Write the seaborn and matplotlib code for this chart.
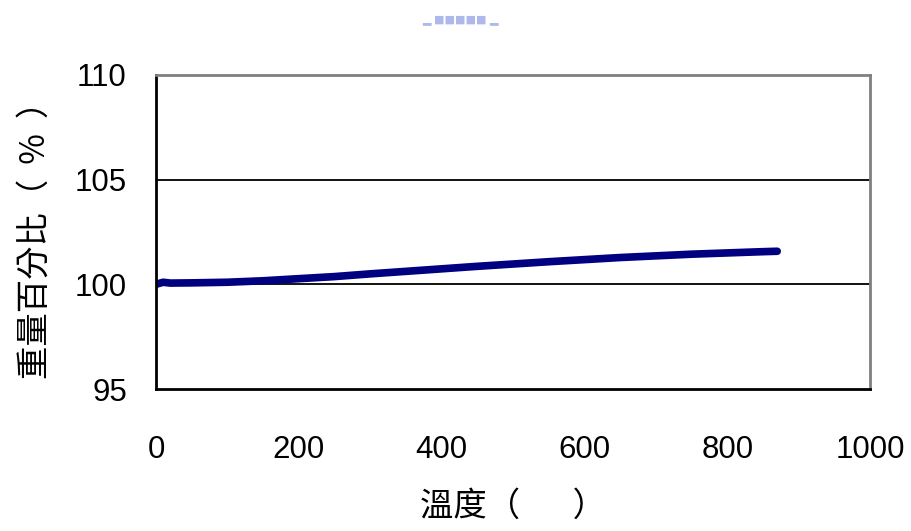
import matplotlib
matplotlib.use("Agg")
import matplotlib.pyplot as plt
import seaborn as sns
import pandas as pd

# Thermogravimetric reading: temperature vs. remaining weight percentage
temperature = [0, 10, 20, 50, 100, 150, 200, 250, 300, 350, 400, 450, 500,
               550, 600, 650, 700, 750, 800, 850, 870]
weight_pct = [100.0, 100.1, 100.06, 100.07, 100.1, 100.17, 100.27, 100.37,
              100.5, 100.62, 100.74, 100.86, 100.97, 101.08, 101.18, 101.28,
              101.36, 101.44, 101.5, 101.56, 101.58]

x_ticks = [0, 200, 400, 600, 800, 1000]
y_ticks = [95, 100, 105, 110]

sns.set_style("white")
plt.rcParams["font.family"] = ["Liberation Sans", "Noto Sans CJK TC", "DejaVu Sans"]
plt.rcParams["text.color"] = "black"
plt.rcParams["axes.labelcolor"] = "black"
plt.rcParams["xtick.color"] = "black"
plt.rcParams["ytick.color"] = "black"

df = pd.DataFrame({"temp": temperature, "weight": weight_pct})

fig = plt.figure(figsize=(9.12, 5.31), dpi=100)
ax = fig.add_axes([0.171, 0.2674, 0.783, 0.5914])

sns.lineplot(data=df, x="temp", y="weight", ax=ax, color="#000080",
             linewidth=5.5, solid_capstyle="round", solid_joinstyle="round")

ax.set_xlim(0, 1000)
ax.set_ylim(95, 110)
ax.set_xticks(x_ticks)
ax.set_yticks(y_ticks)
ax.set_xticklabels([str(v) for v in x_ticks], fontsize=22.5)
ax.set_yticklabels([str(v) for v in y_ticks], fontsize=22.5)

# horizontal gridlines at the major y values
for v in y_ticks[1:-1]:
    ax.axhline(v, color="black", linewidth=1.3, zorder=0)

ax.tick_params(axis="x", direction="in", length=7, width=1.5, color="black", pad=33)
ax.tick_params(axis="y", length=0, pad=21)

for side in ("left", "bottom"):
    ax.spines[side].set_color("black")
    ax.spines[side].set_linewidth(2)
for side in ("top", "right"):
    ax.spines[side].set_color("#808080")
    ax.spines[side].set_linewidth(2)

cjk = ["Noto Sans CJK TC", "DejaVu Sans"]
ax.set_xlabel("溫度（       ）", fontsize=24, family=cjk, labelpad=17)
ax.set_ylabel("重量百分比（  %  ）", fontsize=24, family=cjk, labelpad=16)

fig.text(0.505, 0.962, "▂ ■■■■■ ▂", ha="center", va="center", fontsize=8,
         color="#9aa6e6", alpha=0.8, family="DejaVu Sans")

fig.savefig("out.png", dpi=100, facecolor="white")
